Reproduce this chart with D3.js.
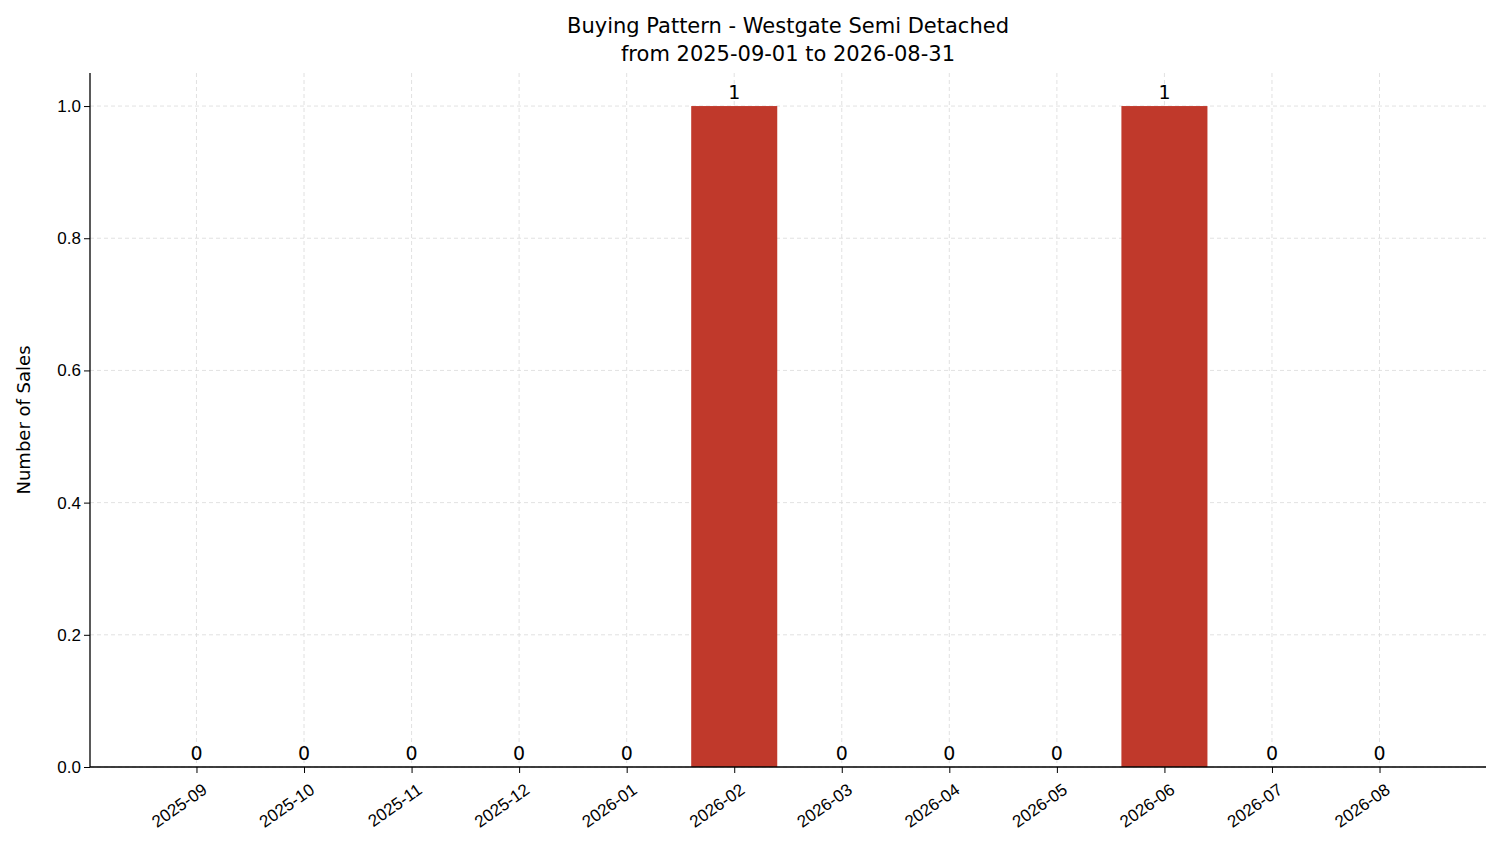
<!DOCTYPE html>
<html><head><meta charset="utf-8">
<script src="https://cdn.jsdelivr.net/npm/d3@7"></script>
<style>body{margin:0;background:#fff}svg{font-family:"DejaVu Sans",sans-serif}</style>
</head><body><svg id="c" width="1501" height="863"></svg>
<script>
const months = ["2025-09","2025-10","2025-11","2025-12","2026-01","2026-02","2026-03","2026-04","2026-05","2026-06","2026-07","2026-08"];
const sales = [0,0,0,0,0,1,0,0,0,1,0,0];
const yTicks = [0,0.2,0.4,0.6,0.8,1.0];

const svg = d3.select("#c");
const L=90,R=1486,T=73,B=767;
const x = d3.scaleLinear().domain([-0.99,11.99]).range([L,R]);
const y = d3.scaleLinear().domain([0,1.05]).range([B,T]);
const bw = x(0.4)-x(-0.4);

const g = svg.append("g");
// grid
g.selectAll(".gy").data(yTicks).join("line").attr("x1",L).attr("x2",R)
 .attr("y1",d=>y(d)).attr("y2",d=>y(d)).attr("stroke","#d9d9d9").attr("stroke-dasharray","4,3").attr("stroke-width",0.8);
g.selectAll(".gx").data(months).join("line").attr("y1",T).attr("y2",B)
 .attr("x1",(d,i)=>x(i)).attr("x2",(d,i)=>x(i)).attr("stroke","#d9d9d9").attr("stroke-dasharray","4,3").attr("stroke-width",0.8);

// bars
g.selectAll(".bar").data(sales).join("rect").attr("x",(d,i)=>x(i)-bw/2).attr("width",bw)
 .attr("y",d=>y(d)).attr("height",d=>B-y(d)).attr("fill","#c0392b");
g.selectAll(".lbl").data(sales).join("text").attr("x",(d,i)=>x(i)).attr("y",d=>y(d)-7)
 .attr("text-anchor","middle").attr("font-size",19).text(d=>d);

// axes
const ya = svg.append("g").attr("transform",`translate(${L},0)`)
 .call(d3.axisLeft(y).tickValues(yTicks).tickFormat(d3.format(".1f")).tickSizeOuter(0));
const xa = svg.append("g").attr("transform",`translate(0,${B})`)
 .call(d3.axisBottom(x).tickValues(d3.range(12)).tickFormat(i=>months[i]).tickSizeOuter(0));
[ya,xa].forEach(a=>{a.selectAll("text").attr("font-size",17).attr("fill","#000");a.select(".domain").attr("stroke","#000").attr("stroke-width",1.3);a.selectAll(".tick line").attr("stroke","#000");});
ya.select(".domain").attr("d",`M-0,${B}V${T}`);
xa.select(".domain").attr("d",`M${L},0H${R}`);
xa.selectAll(".tick text").attr("text-anchor","end").attr("dx",0).attr("dy",0)
 .attr("transform","translate(6,18) rotate(-35)");

svg.append("text").attr("x",30).attr("y",(T+B)/2).attr("transform",`rotate(-90,30,${(T+B)/2})`)
 .attr("text-anchor","middle").attr("font-size",18).text("Number of Sales");
svg.append("text").attr("x",788).attr("y",33).attr("text-anchor","middle").attr("font-size",21).text("Buying Pattern - Westgate Semi Detached");
svg.append("text").attr("x",788).attr("y",61).attr("text-anchor","middle").attr("font-size",21).text("from 2025-09-01 to 2026-08-31");
</script></body></html>
